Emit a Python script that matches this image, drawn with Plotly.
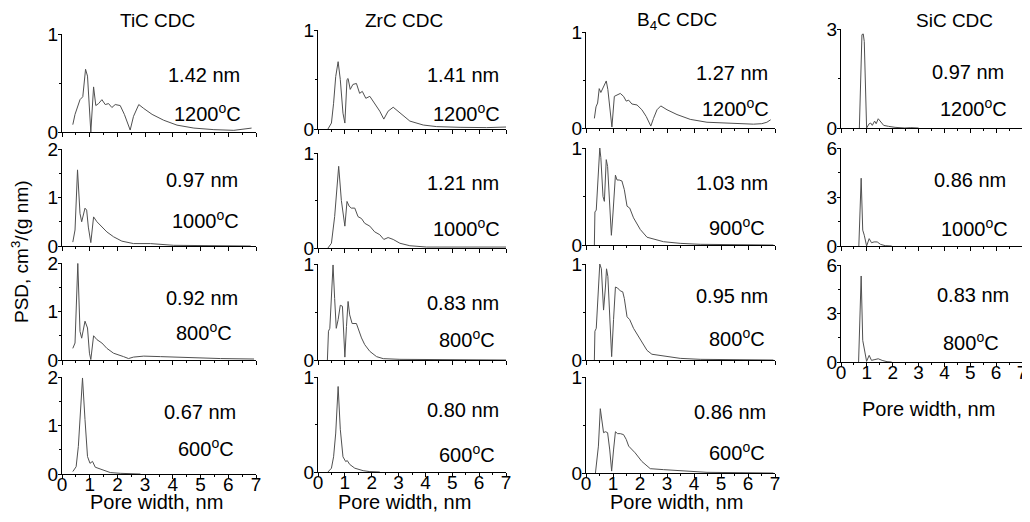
import plotly.graph_objects as go

# Pore size distributions, x = pore width (nm), y = PSD (cm3/(g nm))
tic_1200_x = [0.39, 0.47, 0.65, 0.75, 0.85, 0.92, 1.04, 1.14, 1.22, 1.32, 1.44, 1.56, 1.68, 1.80, 1.92,
              2.10, 2.25, 2.38, 2.46, 2.58, 2.77, 2.95, 3.25, 3.67, 4.15, 4.76, 5.48, 6.20, 6.69, 6.84]
tic_1200_y = [0.075, 0.18, 0.33, 0.36, 0.64, 0.57, 0.0, 0.46, 0.27, 0.29, 0.33, 0.28, 0.29, 0.25, 0.28,
              0.27, 0.18, 0.075, 0.02, 0.16, 0.28, 0.24, 0.18, 0.12, 0.07, 0.04, 0.024, 0.017, 0.03, 0.04]
tic_1000_x = [0.39, 0.47, 0.56, 0.65, 0.71, 0.83, 0.89, 0.95, 1.04, 1.14, 1.26, 1.44, 1.62, 1.86, 2.16,
              2.58, 3.19, 4.03, 5.0, 6.81]
tic_1000_y = [0.08, 0.33, 1.57, 0.67, 0.50, 0.78, 0.74, 0.39, 0.07, 0.60, 0.50, 0.39, 0.29, 0.19, 0.10,
              0.05, 0.05, 0.014, 0.007, 0.0]
tic_800_x = [0.39, 0.47, 0.57, 0.65, 0.71, 0.83, 0.92, 0.99, 1.04, 1.14, 1.26, 1.44, 1.62, 1.86, 2.22,
             2.40, 2.58, 2.95, 3.55, 4.52, 5.72, 6.93]
tic_800_y = [0.24, 0.35, 1.99, 0.59, 0.45, 0.80, 0.66, 0.14, 0.01, 0.50, 0.42, 0.35, 0.24, 0.14, 0.07,
             0.03, 0.06, 0.08, 0.07, 0.05, 0.03, 0.02]
tic_600_x = [0.39, 0.51, 0.59, 0.74, 0.83, 0.92, 1.01, 1.10, 1.20, 1.38, 1.50, 1.74, 2.10, 2.83]
tic_600_y = [0.05, 0.15, 0.57, 1.98, 1.12, 0.36, 0.22, 0.26, 0.14, 0.10, 0.08, 0.03, 0.014, 0.0]

zrc_1200_x = [0.37, 0.50, 0.58, 0.66, 0.75, 0.83, 0.93, 1.00, 1.08, 1.12, 1.20, 1.30, 1.43, 1.55, 1.65,
              1.78, 1.93, 2.11, 2.30, 2.45, 2.61, 2.80, 3.05, 3.42, 3.92, 4.42, 5.29, 6.28, 7.0]
zrc_1200_y = [0.0, 0.06, 0.26, 0.53, 0.68, 0.50, 0.16, 0.06, 0.50, 0.51, 0.40, 0.45, 0.46, 0.36, 0.38,
              0.31, 0.33, 0.26, 0.18, 0.10, 0.18, 0.22, 0.16, 0.08, 0.04, 0.024, 0.017, 0.014, 0.02]
zrc_1000_x = [0.37, 0.50, 0.62, 0.77, 0.87, 1.00, 1.08, 1.16, 1.24, 1.37, 1.49, 1.62, 1.74, 1.93, 2.11,
              2.30, 2.45, 2.61, 2.80, 3.05, 3.42, 4.04, 7.0]
zrc_1000_y = [0.0, 0.05, 0.33, 0.86, 0.50, 0.23, 0.49, 0.44, 0.42, 0.42, 0.33, 0.31, 0.26, 0.23, 0.17,
              0.14, 0.09, 0.11, 0.09, 0.05, 0.024, 0.01, 0.01]
zrc_800_x = [0.35, 0.39, 0.44, 0.50, 0.56, 0.62, 0.68, 0.75, 0.83, 0.91, 0.96, 1.00, 1.06, 1.12, 1.18,
             1.27, 1.43, 1.52, 1.62, 1.74, 1.93, 2.18, 2.43, 3.05, 7.0]
zrc_800_y = [0.0, 0.30, 0.33, 0.62, 0.99, 0.64, 0.33, 0.42, 0.57, 0.56, 0.28, 0.03, 0.35, 0.61, 0.47,
             0.38, 0.38, 0.30, 0.23, 0.16, 0.09, 0.035, 0.014, 0.007, 0.0]
zrc_600_x = [0.37, 0.50, 0.58, 0.66, 0.75, 0.83, 0.93, 1.03, 1.09, 1.18, 1.37, 1.49, 1.68, 1.93, 2.30]
zrc_600_y = [0.0, 0.04, 0.16, 0.41, 0.90, 0.45, 0.16, 0.11, 0.12, 0.08, 0.04, 0.03, 0.014, 0.004, 0.0]

b4c_1200_x = [0.31, 0.37, 0.43, 0.49, 0.55, 0.65, 0.75, 0.81, 0.88, 0.96, 1.05, 1.12, 1.27, 1.39, 1.49,
              1.58, 1.70, 1.89, 2.07, 2.23, 2.40, 2.50, 2.63, 2.77, 3.00, 3.37, 3.86, 4.48, 5.22, 6.20,
              6.51, 6.70, 6.84]
b4c_1200_y = [0.10, 0.22, 0.26, 0.41, 0.37, 0.43, 0.49, 0.40, 0.19, 0.01, 0.33, 0.34, 0.36, 0.33, 0.28,
              0.29, 0.25, 0.24, 0.19, 0.12, 0.02, 0.10, 0.19, 0.23, 0.19, 0.14, 0.09, 0.06, 0.05, 0.04,
              0.045, 0.06, 0.086]
b4c_900_x = [0.31, 0.33, 0.38, 0.43, 0.51, 0.55, 0.63, 0.68, 0.75, 0.80, 0.88, 0.94, 1.00, 1.09, 1.15,
             1.23, 1.33, 1.42, 1.52, 1.62, 1.76, 2.01, 2.26, 2.50, 2.87, 3.49, 4.23, 6.94]
b4c_900_y = [0.0, 0.34, 0.36, 0.67, 1.0, 0.90, 0.50, 0.45, 0.88, 0.81, 0.33, 0.10, 0.33, 0.72, 0.67,
             0.67, 0.66, 0.57, 0.40, 0.38, 0.28, 0.16, 0.08, 0.06, 0.034, 0.017, 0.007, 0.0]
b4c_800_x = [0.31, 0.33, 0.38, 0.44, 0.51, 0.57, 0.65, 0.72, 0.76, 0.81, 0.88, 0.95, 1.02, 1.09, 1.17,
             1.27, 1.36, 1.42, 1.52, 1.62, 1.76, 2.01, 2.26, 2.44, 2.87, 3.49, 4.23, 6.94]
b4c_800_y = [0.0, 0.30, 0.33, 0.69, 1.0, 0.95, 0.52, 0.76, 0.95, 0.87, 0.42, 0.035, 0.42, 0.76, 0.75,
             0.72, 0.71, 0.64, 0.45, 0.42, 0.33, 0.21, 0.10, 0.06, 0.04, 0.017, 0.007, 0.0]
b4c_600_x = [0.35, 0.41, 0.46, 0.53, 0.59, 0.65, 0.72, 0.80, 0.88, 0.95, 1.02, 1.09, 1.17, 1.27, 1.39,
             1.49, 1.58, 1.66, 1.82, 2.07, 2.38, 2.87, 3.74, 4.48, 6.94]
b4c_600_y = [0.0, 0.14, 0.28, 0.67, 0.56, 0.42, 0.43, 0.42, 0.24, 0.02, 0.24, 0.43, 0.41, 0.41, 0.40,
             0.35, 0.28, 0.26, 0.21, 0.12, 0.045, 0.035, 0.017, 0.007, 0.0]

sic_1200_x = [0.71, 0.81, 0.86, 0.90, 0.99, 1.09, 1.15, 1.21, 1.30, 1.36, 1.44, 1.53, 1.65, 1.84, 2.09,
              2.47, 2.70, 3.0]
sic_1200_y = [0.0, 2.83, 2.85, 2.62, 0.0, 0.13, 0.15, 0.08, 0.21, 0.13, 0.28, 0.18, 0.08, 0.05, 0.02,
              0.0, 0.01, 0.0]
sic_1000_x = [0.69, 0.78, 0.84, 0.90, 0.99, 1.09, 1.18, 1.28, 1.40, 1.53, 1.71, 1.96]
sic_1000_y = [0.0, 4.15, 0.97, 0.66, 0.0, 0.45, 0.20, 0.25, 0.25, 0.10, 0.02, 0.0]
sic_800_x = [0.68, 0.78, 0.84, 0.90, 0.99, 1.09, 1.18, 1.28, 1.44, 1.59, 1.78, 1.96]
sic_800_y = [0.0, 5.32, 1.34, 0.83, 0.04, 0.41, 0.10, 0.14, 0.20, 0.10, 0.02, 0.0]

materials = ["TiC CDC", "ZrC CDC", "B<sub>4</sub>C CDC", "SiC CDC"]
tic_sizes = ["1.42 nm", "0.97 nm", "0.92 nm", "0.67 nm"]
zrc_sizes = ["1.41 nm", "1.21 nm", "0.83 nm", "0.80 nm"]
b4c_sizes = ["1.27 nm", "1.03 nm", "0.95 nm", "0.86 nm"]
sic_sizes = ["0.97 nm", "0.86 nm", "0.83 nm"]
tic_temps = [1200, 1000, 800, 600]
zrc_temps = [1200, 1000, 800, 600]
b4c_temps = [1200, 900, 800, 600]
sic_temps = [1200, 1000, 800]
tic_ymax = [1, 2, 2, 2]
zrc_ymax = [1, 1, 1, 1]
b4c_ymax = [1, 1, 1, 1]
sic_ymax = [3, 6, 6]

# ---- layout (positions given in pixels of the 1030x522 window) ----
OFF = 8  # page body margin around the figure
W, H = 1030 - 2 * OFF, 522 - 2 * OFF  # figure fits the window, so no scrollbars
FONT = "Liberation Sans, Arial, sans-serif"
LINE = "#505050"


def fx(px):
    return (px - OFF) / W


def fy(py):
    return 1 - (py - OFF) / H


col_x = [(62, 256), (318, 506), (586, 775), (841, 1022)]
col_rows = [
    [(34, 132), (149, 246), (263, 360), (377, 474)],
    [(30, 129), (153, 248), (264, 360), (377, 472)],
    [(32, 128), (148, 245), (264, 360), (377, 473)],
    [(29, 128), (148, 246), (265, 362)],
]
# label positions inside each panel, fractions of the panel: (x, y) for size, (x, y) for temperature
col_label_pos = [
    [((.73, .58), (.75, .20)), ((.72, .68), (.74, .27)), ((.72, .64), (.73, .29)), ((.71, .64), (.74, .27))],
    [((.77, .55), (.79, .17)), ((.77, .68), (.79, .22)), ((.77, .59), (.79, .22)), ((.77, .65), (.79, .20))],
    [((.77, .57), (.79, .21)), ((.77, .64), (.80, .19)), ((.77, .67), (.80, .23)), ((.76, .64), (.80, .22))],
    [((.70, .57), (.73, .21)), ((.71, .67), (.74, .19)), ((.73, .69), (.72, .21))],
]
title_pos = [(157, 21), (404, 21), (677, 21), (954, 21)]
xtitle_pos = [(156, 502), (404, 502), (676, 502), (928, 409)]

columns = [
    list(zip([tic_1200_x, tic_1000_x, tic_800_x, tic_600_x], [tic_1200_y, tic_1000_y, tic_800_y, tic_600_y],
             tic_ymax, tic_sizes, tic_temps)),
    list(zip([zrc_1200_x, zrc_1000_x, zrc_800_x, zrc_600_x], [zrc_1200_y, zrc_1000_y, zrc_800_y, zrc_600_y],
             zrc_ymax, zrc_sizes, zrc_temps)),
    list(zip([b4c_1200_x, b4c_900_x, b4c_800_x, b4c_600_x], [b4c_1200_y, b4c_900_y, b4c_800_y, b4c_600_y],
             b4c_ymax, b4c_sizes, b4c_temps)),
    list(zip([sic_1200_x, sic_1000_x, sic_800_x], [sic_1200_y, sic_1000_y, sic_800_y],
             sic_ymax, sic_sizes, sic_temps)),
]

fig = go.Figure()
layout = {}
annotations = []
k = 0
for c, panels in enumerate(columns):
    x0, x7 = col_x[c]
    n = len(panels)
    for r, (xs, ys, ymax, size, temp) in enumerate(panels):
        k += 1
        sfx = "" if k == 1 else str(k)
        top, bot = col_rows[c][r]
        fig.add_trace(go.Scatter(x=xs, y=ys, mode="lines", line=dict(color=LINE, width=1),
                                 xaxis="x" + sfx, yaxis="y" + sfx, showlegend=False))
        bottom = (r == n - 1)
        layout["xaxis" + sfx] = dict(
            domain=[fx(x0), fx(x7)], range=[0, 7], anchor="y" + sfx, automargin=False,
            showline=True, linecolor="black", linewidth=1, showgrid=False, zeroline=False,
            ticks="outside", ticklen=4, tickcolor="black", tick0=0, dtick=1,
            minor=dict(ticks="outside", ticklen=2, tickcolor="black", dtick=0.5, tick0=0),
            showticklabels=bottom, ticklabelstandoff=-11, ticklabeloverflow="allow",
            tickfont=dict(family=FONT, size=19, color="black"),
        )
        if ymax <= 2:
            major = list(range(0, ymax + 1))
            mdt = 0.5
        else:
            major = list(range(0, ymax + 1, 3))
            mdt = 1.5
        layout["yaxis" + sfx] = dict(
            domain=[fy(bot), fy(top)], range=[0, ymax], anchor="x" + sfx, automargin=False,
            showline=True, linecolor="black", linewidth=1, showgrid=False, zeroline=False,
            ticks="outside", ticklen=3, tickcolor="black",
            tickvals=major, ticktext=[str(v) for v in major], ticklabelstandoff=-4,
            ticklabeloverflow="allow",
            minor=dict(ticks="outside", ticklen=2, tickcolor="black", dtick=mdt, tick0=0),
            tickfont=dict(family=FONT, size=19, color="black"),
        )
        (sx, sy), (tx, ty) = col_label_pos[c][r]
        annotations.append(dict(text=size, x=sx, y=sy, xref="x" + sfx + " domain", yref="y" + sfx + " domain",
                                showarrow=False, xanchor="center", yanchor="middle",
                                font=dict(family=FONT, size=20, color="black")))
        annotations.append(dict(text=f"{temp}<sup>o</sup>C", x=tx, y=ty,
                                xref="x" + sfx + " domain", yref="y" + sfx + " domain",
                                showarrow=False, xanchor="center", yanchor="middle",
                                font=dict(family=FONT, size=20, color="black")))
    px, py = title_pos[c]
    annotations.append(dict(text=materials[c], x=fx(px), y=fy(py), xref="paper", yref="paper",
                            showarrow=False, xanchor="center", yanchor="middle",
                            font=dict(family=FONT, size=19, color="black")))
    px, py = xtitle_pos[c]
    annotations.append(dict(text="Pore width, nm", x=fx(px), y=fy(py), xref="paper", yref="paper",
                            showarrow=False, xanchor="center", yanchor="middle",
                            font=dict(family=FONT, size=20, color="black")))

annotations.append(dict(text="PSD, cm<sup>3</sup>/(g nm)", x=fx(20), y=fy(252), xref="paper", yref="paper",
                        showarrow=False, textangle=-90, xanchor="center", yanchor="middle",
                        font=dict(family=FONT, size=19, color="black")))

fig.update_layout(
    width=W, height=H, autosize=False,
    margin=dict(l=0, r=0, t=0, b=0, autoexpand=False),
    paper_bgcolor="white", plot_bgcolor="white",
    annotations=annotations,
    **layout,
)

fig.write_html("out.html")
